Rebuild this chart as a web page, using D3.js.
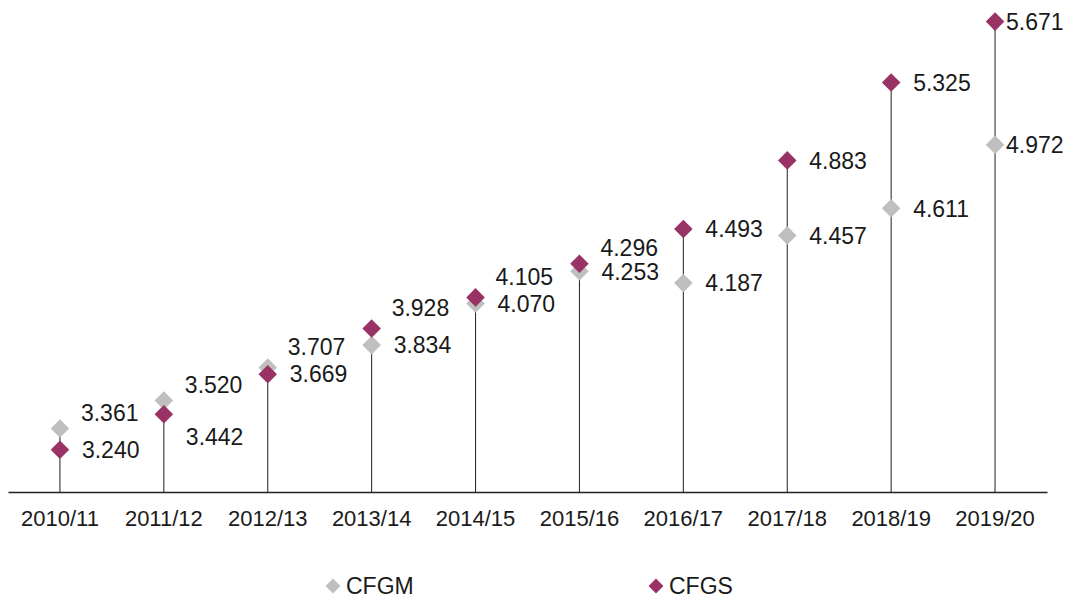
<!DOCTYPE html>
<html lang="es">
<head>
    <meta charset="UTF-8">
    <title>CFGM / CFGS</title>
    <script src="https://d3js.org/d3.v7.min.js"></script>
    <style>
        body {
            margin: 0;
            background: #ffffff;
            font-family: "Liberation Sans", Arial, sans-serif;
        }
        svg text {
            fill: #1a1a1a;
        }
    </style>
</head>
<body>

<svg id="chart" width="1068" height="598"></svg>

<script>
    // Data
    const years = ['2010/11', '2011/12', '2012/13', '2013/14', '2014/15',
                   '2015/16', '2016/17', '2017/18', '2018/19', '2019/20'];
    const cfgm = [3.361, 3.520, 3.707, 3.834, 4.070, 4.253, 4.187, 4.457, 4.611, 4.972];
    const cfgs = [3.240, 3.442, 3.669, 3.928, 4.105, 4.296, 4.493, 4.883, 5.325, 5.671];
    // where each data label sits relative to its marker
    const cfgmLabelPos = ['up', 'up', 'high', 'right', 'right', 'right', 'right', 'right', 'right', 'near'];
    const cfgsLabelPos = ['right', 'down', 'right', 'high', 'high', 'up', 'right', 'right', 'right', 'near'];

    const colors = { CFGM: '#bfbfbf', CFGS: '#993366' };
    const fmt = d3.format('.3f');

    const svg = d3.select('#chart');

    const x = d3.scaleBand().domain(years).range([8, 1047]);
    const y = d3.scaleLinear().domain([3, 5.7]).range([492, 16.5]);
    const cx = d => x(d) + x.bandwidth() / 2;

    const shiftY = { right: 0, near: 0, up: -16, high: -21, down: 23 };
    const shiftX = { right: 22, near: 11, up: 21, high: 20, down: 22 };

    // stems
    svg.append('g')
        .selectAll('line')
        .data(years)
        .enter().append('line')
        .attr('x1', d => cx(d))
        .attr('x2', d => cx(d))
        .attr('y1', y(3))
        .attr('y2', (d, i) => y(Math.max(cfgm[i], cfgs[i])))
        .attr('stroke', '#1f1f1f')
        .attr('stroke-width', 1);

    // x axis
    const xAxis = svg.append('g')
        .attr('transform', `translate(0,${y(3)})`)
        .call(d3.axisBottom(x).tickSize(0).tickPadding(18));
    xAxis.select('.domain').attr('stroke', '#1f1f1f').attr('stroke-width', 1.3);
    xAxis.selectAll('text')
        .style('font-family', '"Liberation Sans", Arial, sans-serif')
        .style('font-size', '22px')
        .attr('fill', '#1a1a1a');

    const diamond = d3.symbol().type(d3.symbolSquare).size(172);

    function drawSeries(values, color, pos) {
        const g = svg.append('g');
        g.selectAll('path')
            .data(values)
            .enter().append('path')
            .attr('d', diamond)
            .attr('fill', color)
            .attr('transform', (d, i) => `translate(${cx(years[i])},${y(d)}) rotate(45)`);

        g.selectAll('text')
            .data(values)
            .enter().append('text')
            .attr('x', (d, i) => cx(years[i]) + shiftX[pos[i]])
            .attr('y', (d, i) => y(d) + shiftY[pos[i]])
            .attr('dy', '0.36em')
            .style('font-size', '23px')
            .text(d => fmt(d));
    }

    drawSeries(cfgm, colors.CFGM, cfgmLabelPos);
    drawSeries(cfgs, colors.CFGS, cfgsLabelPos);

    // legend
    const legendItems = [
        { name: 'CFGM', x: 333 },
        { name: 'CFGS', x: 656 }
    ];
    const legend = svg.append('g')
        .selectAll('g')
        .data(legendItems)
        .enter().append('g')
        .attr('transform', d => `translate(${d.x},586)`);

    legend.append('path')
        .attr('d', d3.symbol().type(d3.symbolSquare).size(110))
        .attr('transform', 'rotate(45)')
        .attr('fill', d => colors[d.name]);

    legend.append('text')
        .attr('x', 13)
        .attr('dy', '0.36em')
        .style('font-size', '23px')
        .text(d => d.name);
</script>

</body>
</html>
